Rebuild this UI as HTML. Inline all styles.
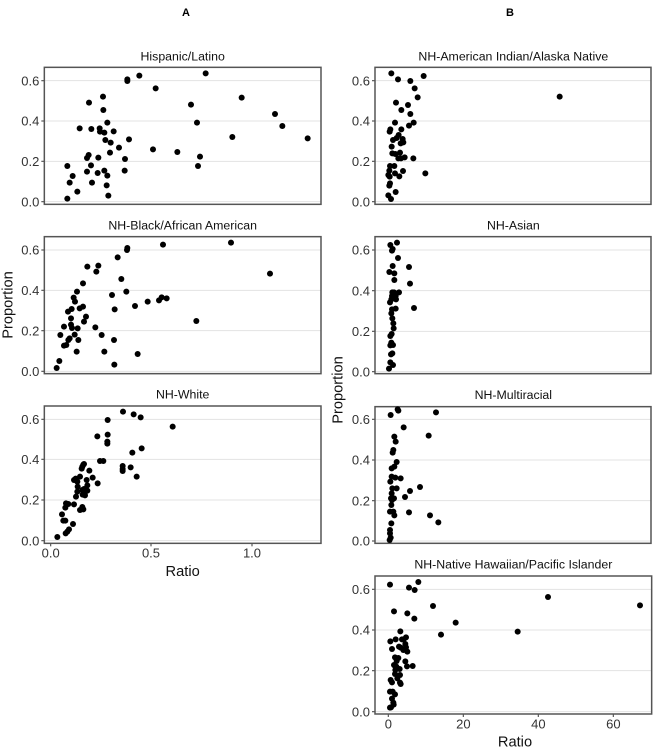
<!DOCTYPE html>
<html><head><meta charset="utf-8"><style>
body{margin:0;background:#fff}
svg{display:block;font-family:"Liberation Sans",Arial,sans-serif}
.fr{fill:none;stroke:#555;stroke-width:4.5}
.gr{stroke:#e3e3e3;stroke-width:3}
.tk{stroke:#555;stroke-width:3.5}
.tl{font-size:39px;fill:#333;text-anchor:end}
.xl{font-size:39px;fill:#333;text-anchor:middle}
.tt{font-size:37px;fill:#111;text-anchor:middle}
.at{font-size:44px;fill:#111;text-anchor:middle}
circle{fill:#000}
</style></head><body>
<svg width="656" height="750" viewBox="0 0 656 750">
<text x="186" y="16" font-size="11" font-weight="bold" text-anchor="middle">A</text>
<text x="510" y="16" font-size="11" font-weight="bold" text-anchor="middle">B</text>

<!-- A1 -->
<g transform="translate(0,40) scale(0.33333)">
<text class="tt" x="548" y="62">Hispanic/Latino</text>
<line class="gr" x1="133" x2="963" y1="122" y2="122"/><line class="gr" x1="133" x2="963" y1="243" y2="243"/><line class="gr" x1="133" x2="963" y1="364" y2="364"/><line class="gr" x1="133" x2="963" y1="485" y2="485"/>
<rect class="fr" x="133" y="82" width="830" height="411"/>
<line class="tk" x1="124" x2="133" y1="122" y2="122"/><line class="tk" x1="124" x2="133" y1="243" y2="243"/><line class="tk" x1="124" x2="133" y1="364" y2="364"/><line class="tk" x1="124" x2="133" y1="485" y2="485"/>
<text class="tl" x="118" y="136">0.6</text><text class="tl" x="118" y="257">0.4</text><text class="tl" x="118" y="378">0.2</text><text class="tl" x="118" y="499">0.0</text>
<g>
<circle cx="202" cy="378" r="9"/><circle cx="202" cy="476" r="9"/><circle cx="209" cy="428" r="9"/><circle cx="218" cy="408" r="9"/><circle cx="232" cy="455" r="9"/><circle cx="239" cy="265" r="9"/><circle cx="261" cy="354" r="9"/><circle cx="266" cy="345" r="9"/>
<circle cx="267" cy="188" r="9"/><circle cx="309" cy="170" r="9"/><circle cx="310" cy="210" r="9"/><circle cx="322" cy="248" r="9"/><circle cx="274" cy="267" r="9"/><circle cx="299" cy="265" r="9"/><circle cx="300" cy="275" r="9"/><circle cx="313" cy="278" r="9"/><circle cx="341" cy="274" r="9"/><circle cx="316" cy="300" r="9"/><circle cx="332" cy="308" r="9"/><circle cx="330" cy="338" r="9"/><circle cx="357" cy="323" r="9"/><circle cx="387" cy="298" r="9"/><circle cx="375" cy="357" r="9"/><circle cx="374" cy="392" r="9"/><circle cx="261" cy="395" r="9"/><circle cx="273" cy="376" r="9"/><circle cx="276" cy="428" r="9"/><circle cx="293" cy="399" r="9"/><circle cx="295" cy="353" r="9"/><circle cx="313" cy="392" r="9"/><circle cx="322" cy="407" r="9"/><circle cx="320" cy="436" r="9"/><circle cx="325" cy="467" r="9"/><circle cx="382" cy="118" r="9"/><circle cx="382" cy="123" r="9"/><circle cx="418" cy="107" r="9"/><circle cx="467" cy="145" r="9"/><circle cx="459" cy="328" r="9"/><circle cx="532" cy="336" r="9"/><circle cx="573" cy="194" r="9"/><circle cx="591" cy="248" r="9"/><circle cx="600" cy="350" r="9"/><circle cx="594" cy="378" r="9"/><circle cx="617" cy="100" r="9"/><circle cx="697" cy="291" r="9"/><circle cx="725" cy="173" r="9"/><circle cx="825" cy="222" r="9"/><circle cx="847" cy="258" r="9"/><circle cx="923" cy="295" r="9"/>
</g></g>

<!-- A2 -->
<g transform="translate(0,210) scale(0.33333)">
<text class="tt" x="548" y="58">NH-Black/African American</text>
<line class="gr" x1="133" x2="963" y1="120" y2="120"/><line class="gr" x1="133" x2="963" y1="241" y2="241"/><line class="gr" x1="133" x2="963" y1="362" y2="362"/><line class="gr" x1="133" x2="963" y1="484" y2="484"/>
<rect class="fr" x="133" y="80" width="830" height="411"/>
<line class="tk" x1="124" x2="133" y1="120" y2="120"/><line class="tk" x1="124" x2="133" y1="241" y2="241"/><line class="tk" x1="124" x2="133" y1="362" y2="362"/><line class="tk" x1="124" x2="133" y1="484" y2="484"/>
<text class="tl" x="118" y="134">0.6</text><text class="tl" x="118" y="255">0.4</text><text class="tl" x="118" y="376">0.2</text><text class="tl" x="118" y="498">0.0</text>
<text class="at" transform="translate(38,285) rotate(-90)">Proportion</text>
<g>
<circle cx="170" cy="474" r="9"/><circle cx="178" cy="453" r="9"/><circle cx="181" cy="375" r="9"/><circle cx="192" cy="350" r="9"/><circle cx="192" cy="407" r="9"/><circle cx="199" cy="405" r="9"/><circle cx="204" cy="305" r="9"/><circle cx="205" cy="390" r="9"/><circle cx="209" cy="385" r="9"/><circle cx="213" cy="325" r="9"/><circle cx="213" cy="344" r="9"/><circle cx="215" cy="297" r="9"/><circle cx="216" cy="354" r="9"/><circle cx="221" cy="263" r="9"/><circle cx="225" cy="275" r="9"/><circle cx="224" cy="374" r="9"/><circle cx="231" cy="245" r="9"/><circle cx="233" cy="355" r="9"/><circle cx="235" cy="390" r="9"/><circle cx="230" cy="425" r="9"/><circle cx="239" cy="295" r="9"/><circle cx="249" cy="220" r="9"/><circle cx="249" cy="290" r="9"/><circle cx="252" cy="335" r="9"/><circle cx="258" cy="320" r="9"/><circle cx="262" cy="170" r="9"/><circle cx="286" cy="352" r="9"/><circle cx="289" cy="185" r="9"/><circle cx="295" cy="167" r="9"/><circle cx="305" cy="375" r="9"/><circle cx="313" cy="425" r="9"/><circle cx="336" cy="255" r="9"/><circle cx="344" cy="298" r="9"/><circle cx="342" cy="390" r="9"/><circle cx="343" cy="464" r="9"/><circle cx="353" cy="142" r="9"/><circle cx="364" cy="207" r="9"/><circle cx="379" cy="245" r="9"/><circle cx="381" cy="120" r="9"/><circle cx="382" cy="114" r="9"/><circle cx="405" cy="288" r="9"/><circle cx="413" cy="432" r="9"/><circle cx="443" cy="275" r="9"/><circle cx="477" cy="271" r="9"/><circle cx="485" cy="262" r="9"/><circle cx="489" cy="104" r="9"/><circle cx="500" cy="265" r="9"/><circle cx="589" cy="333" r="9"/><circle cx="693" cy="98" r="9"/><circle cx="810" cy="191" r="9"/>
</g></g>

<!-- A3 -->
<g transform="translate(0,380) scale(0.33333)">
<text class="tt" x="548" y="56">NH-White</text>
<line class="gr" x1="133" x2="963" y1="118" y2="118"/><line class="gr" x1="133" x2="963" y1="238" y2="238"/><line class="gr" x1="133" x2="963" y1="360" y2="360"/><line class="gr" x1="133" x2="963" y1="482" y2="482"/>
<rect class="fr" x="133" y="78" width="830" height="412"/>
<line class="tk" x1="124" x2="133" y1="118" y2="118"/><line class="tk" x1="124" x2="133" y1="238" y2="238"/><line class="tk" x1="124" x2="133" y1="360" y2="360"/><line class="tk" x1="124" x2="133" y1="482" y2="482"/>
<text class="tl" x="118" y="132">0.6</text><text class="tl" x="118" y="252">0.4</text><text class="tl" x="118" y="374">0.2</text><text class="tl" x="118" y="496">0.0</text>
<line class="tk" x1="152" x2="152" y1="490" y2="499"/><line class="tk" x1="453" x2="453" y1="490" y2="499"/><line class="tk" x1="756" x2="756" y1="490" y2="499"/>
<text class="xl" x="152" y="533">0.0</text><text class="xl" x="453" y="533">0.5</text><text class="xl" x="756" y="533">1.0</text>
<text class="at" x="548" y="588">Ratio</text>
<g>
<circle cx="172" cy="471" r="9"/><circle cx="198" cy="370" r="9"/><circle cx="196" cy="383" r="9"/><circle cx="205" cy="372" r="9"/><circle cx="186" cy="403" r="9"/><circle cx="190" cy="422" r="9"/><circle cx="196" cy="422" r="9"/><circle cx="197" cy="460" r="9"/><circle cx="202" cy="455" r="9"/><circle cx="207" cy="448" r="9"/><circle cx="219" cy="432" r="9"/><circle cx="222" cy="373" r="9"/><circle cx="228" cy="350" r="9"/><circle cx="232" cy="335" r="9"/><circle cx="233" cy="320" r="9"/><circle cx="232" cy="305" r="9"/><circle cx="227" cy="296" r="9"/><circle cx="222" cy="300" r="9"/><circle cx="240" cy="290" r="9"/><circle cx="245" cy="266" r="9"/><circle cx="247" cy="260" r="9"/><circle cx="250" cy="254" r="9"/><circle cx="252" cy="252" r="9"/><circle cx="247" cy="330" r="9"/><circle cx="252" cy="327" r="9"/><circle cx="248" cy="344" r="9"/><circle cx="254" cy="342" r="9"/><circle cx="262" cy="316" r="9"/><circle cx="260" cy="300" r="9"/><circle cx="247" cy="381" r="9"/><circle cx="240" cy="390" r="9"/><circle cx="250" cy="388" r="9"/><circle cx="255" cy="346" r="9"/><circle cx="268" cy="272" r="9"/><circle cx="262" cy="332" r="9"/><circle cx="278" cy="293" r="9"/><circle cx="293" cy="310" r="9"/><circle cx="292" cy="169" r="9"/><circle cx="300" cy="243" r="9"/><circle cx="310" cy="243" r="9"/><circle cx="323" cy="120" r="9"/><circle cx="323" cy="164" r="9"/><circle cx="322" cy="185" r="9"/><circle cx="322" cy="191" r="9"/><circle cx="369" cy="95" r="9"/><circle cx="368" cy="258" r="9"/><circle cx="368" cy="267" r="9"/><circle cx="368" cy="273" r="9"/><circle cx="392" cy="262" r="9"/><circle cx="401" cy="103" r="9"/><circle cx="397" cy="218" r="9"/><circle cx="410" cy="290" r="9"/><circle cx="422" cy="112" r="9"/><circle cx="425" cy="205" r="9"/><circle cx="518" cy="140" r="9"/>
</g></g>

<!-- B1 -->
<g transform="translate(330,40) scale(0.33333)">
<text class="tt" x="550" y="62">NH-American Indian/Alaska Native</text>
<line class="gr" x1="135" x2="963" y1="122" y2="122"/><line class="gr" x1="135" x2="963" y1="243" y2="243"/><line class="gr" x1="135" x2="963" y1="364" y2="364"/><line class="gr" x1="135" x2="963" y1="485" y2="485"/>
<rect class="fr" x="135" y="82" width="828" height="411"/>
<line class="tk" x1="126" x2="135" y1="122" y2="122"/><line class="tk" x1="126" x2="135" y1="243" y2="243"/><line class="tk" x1="126" x2="135" y1="364" y2="364"/><line class="tk" x1="126" x2="135" y1="485" y2="485"/>
<text class="tl" x="120" y="136">0.6</text><text class="tl" x="120" y="257">0.4</text><text class="tl" x="120" y="378">0.2</text><text class="tl" x="120" y="499">0.0</text>
<g>
<circle cx="184" cy="100" r="9"/><circle cx="204" cy="118" r="9"/><circle cx="241" cy="123" r="9"/><circle cx="281" cy="108" r="9"/><circle cx="254" cy="145" r="9"/><circle cx="263" cy="172" r="9"/><circle cx="198" cy="188" r="9"/><circle cx="234" cy="195" r="9"/><circle cx="214" cy="210" r="9"/><circle cx="241" cy="222" r="9"/><circle cx="251" cy="248" r="9"/><circle cx="237" cy="257" r="9"/><circle cx="195" cy="248" r="9"/><circle cx="181" cy="268" r="9"/><circle cx="179" cy="275" r="9"/><circle cx="189" cy="300" r="9"/><circle cx="200" cy="294" r="9"/><circle cx="206" cy="285" r="9"/><circle cx="214" cy="268" r="9"/><circle cx="218" cy="297" r="9"/><circle cx="220" cy="307" r="9"/><circle cx="212" cy="310" r="9"/><circle cx="185" cy="320" r="9"/><circle cx="187" cy="340" r="9"/><circle cx="196" cy="342" r="9"/><circle cx="210" cy="338" r="9"/><circle cx="213" cy="355" r="9"/><circle cx="205" cy="355" r="9"/><circle cx="224" cy="352" r="9"/><circle cx="180" cy="378" r="9"/><circle cx="193" cy="378" r="9"/><circle cx="178" cy="392" r="9"/><circle cx="175" cy="405" r="9"/><circle cx="179" cy="410" r="9"/><circle cx="219" cy="393" r="9"/><circle cx="208" cy="409" r="9"/><circle cx="250" cy="355" r="9"/><circle cx="286" cy="400" r="9"/><circle cx="180" cy="430" r="9"/><circle cx="178" cy="437" r="9"/><circle cx="197" cy="456" r="9"/><circle cx="175" cy="466" r="9"/><circle cx="183" cy="477" r="9"/><circle cx="689" cy="170" r="9"/><circle cx="195" cy="400" r="9"/>
</g></g>

<!-- B2 + B3 -->
<g transform="translate(330,210) scale(0.33333)">
<text class="tt" x="550" y="58">NH-Asian</text>
<line class="gr" x1="135" x2="963" y1="120" y2="120"/><line class="gr" x1="135" x2="963" y1="242" y2="242"/><line class="gr" x1="135" x2="963" y1="364" y2="364"/><line class="gr" x1="135" x2="963" y1="485" y2="485"/>
<rect class="fr" x="135" y="80" width="828" height="411"/>
<line class="tk" x1="126" x2="135" y1="120" y2="120"/><line class="tk" x1="126" x2="135" y1="242" y2="242"/><line class="tk" x1="126" x2="135" y1="364" y2="364"/><line class="tk" x1="126" x2="135" y1="485" y2="485"/>
<text class="tl" x="120" y="134">0.6</text><text class="tl" x="120" y="256">0.4</text><text class="tl" x="120" y="378">0.2</text><text class="tl" x="120" y="499">0.0</text>
<text class="at" transform="translate(38,540) rotate(-90)">Proportion</text>
<g>
<circle cx="181" cy="105" r="9"/><circle cx="201" cy="98" r="9"/><circle cx="186" cy="122" r="9"/><circle cx="188" cy="117" r="9"/><circle cx="204" cy="144" r="9"/><circle cx="188" cy="168" r="9"/><circle cx="237" cy="171" r="9"/><circle cx="178" cy="186" r="9"/><circle cx="193" cy="190" r="9"/><circle cx="193" cy="210" r="9"/><circle cx="240" cy="221" r="9"/><circle cx="187" cy="247" r="9"/><circle cx="207" cy="247" r="9"/><circle cx="197" cy="258" r="9"/><circle cx="184" cy="268" r="9"/><circle cx="180" cy="277" r="9"/><circle cx="198" cy="268" r="9"/><circle cx="186" cy="298" r="9"/><circle cx="197" cy="296" r="9"/><circle cx="184" cy="310" r="9"/><circle cx="187" cy="325" r="9"/><circle cx="190" cy="340" r="9"/><circle cx="191" cy="355" r="9"/><circle cx="185" cy="372" r="9"/><circle cx="181" cy="378" r="9"/><circle cx="184" cy="398" r="9"/><circle cx="181" cy="406" r="9"/><circle cx="189" cy="405" r="9"/><circle cx="187" cy="430" r="9"/><circle cx="183" cy="433" r="9"/><circle cx="181" cy="457" r="9"/><circle cx="189" cy="465" r="9"/><circle cx="177" cy="476" r="9"/><circle cx="252" cy="294" r="9"/><circle cx="192" cy="247" r="9"/><circle cx="186" cy="258" r="9"/>
</g>
<text class="tt" x="550" y="567">NH-Multiracial</text>
<line class="gr" x1="135" x2="963" y1="628" y2="628"/><line class="gr" x1="135" x2="963" y1="750" y2="750"/><line class="gr" x1="135" x2="963" y1="872" y2="872"/><line class="gr" x1="135" x2="963" y1="993" y2="993"/>
<rect class="fr" x="135" y="590" width="828" height="410"/>
<line class="tk" x1="126" x2="135" y1="628" y2="628"/><line class="tk" x1="126" x2="135" y1="750" y2="750"/><line class="tk" x1="126" x2="135" y1="872" y2="872"/><line class="tk" x1="126" x2="135" y1="993" y2="993"/>
<text class="tl" x="120" y="642">0.6</text><text class="tl" x="120" y="764">0.4</text><text class="tl" x="120" y="886">0.2</text><text class="tl" x="120" y="1007">0.0</text>
<g>
<circle cx="182" cy="615" r="9"/><circle cx="318" cy="607" r="9"/><circle cx="203" cy="598" r="9"/><circle cx="205" cy="602" r="9"/><circle cx="221" cy="652" r="9"/><circle cx="296" cy="677" r="9"/><circle cx="193" cy="680" r="9"/><circle cx="197" cy="695" r="9"/><circle cx="190" cy="720" r="9"/><circle cx="188" cy="728" r="9"/><circle cx="200" cy="756" r="9"/><circle cx="193" cy="770" r="9"/><circle cx="185" cy="775" r="9"/><circle cx="212" cy="805" r="9"/><circle cx="196" cy="803" r="9"/><circle cx="181" cy="815" r="9"/><circle cx="187" cy="835" r="9"/><circle cx="200" cy="835" r="9"/><circle cx="185" cy="850" r="9"/><circle cx="270" cy="831" r="9"/><circle cx="240" cy="843" r="9"/><circle cx="225" cy="861" r="9"/><circle cx="183" cy="865" r="9"/><circle cx="192" cy="865" r="9"/><circle cx="184" cy="885" r="9"/><circle cx="180" cy="905" r="9"/><circle cx="190" cy="905" r="9"/><circle cx="193" cy="916" r="9"/><circle cx="237" cy="907" r="9"/><circle cx="300" cy="916" r="9"/><circle cx="325" cy="937" r="9"/><circle cx="184" cy="940" r="9"/><circle cx="180" cy="960" r="9"/><circle cx="180" cy="970" r="9"/><circle cx="182" cy="983" r="9"/><circle cx="179" cy="990" r="9"/><circle cx="185" cy="800" r="9"/><circle cx="186" cy="870" r="9"/>
</g></g>

<!-- B4 -->
<g transform="translate(330,550) scale(0.33333)">
<text class="tt" x="550" y="56">NH-Native Hawaiian/Pacific Islander</text>
<line class="gr" x1="135" x2="965" y1="118" y2="118"/><line class="gr" x1="135" x2="965" y1="240" y2="240"/><line class="gr" x1="135" x2="965" y1="362" y2="362"/><line class="gr" x1="135" x2="965" y1="485" y2="485"/>
<rect class="fr" x="135" y="78" width="830" height="414"/>
<line class="tk" x1="126" x2="135" y1="118" y2="118"/><line class="tk" x1="126" x2="135" y1="240" y2="240"/><line class="tk" x1="126" x2="135" y1="362" y2="362"/><line class="tk" x1="126" x2="135" y1="485" y2="485"/>
<text class="tl" x="120" y="132">0.6</text><text class="tl" x="120" y="254">0.4</text><text class="tl" x="120" y="376">0.2</text><text class="tl" x="120" y="499">0.0</text>
<line class="tk" x1="175" x2="175" y1="492" y2="501"/><line class="tk" x1="400" x2="400" y1="492" y2="501"/><line class="tk" x1="625" x2="625" y1="492" y2="501"/><line class="tk" x1="850" x2="850" y1="492" y2="501"/>
<text class="xl" x="175" y="535">0</text><text class="xl" x="400" y="535">20</text><text class="xl" x="625" y="535">40</text><text class="xl" x="850" y="535">60</text>
<text class="at" x="555" y="590">Ratio</text>
<g>
<circle cx="180" cy="104" r="9"/><circle cx="237" cy="113" r="9"/><circle cx="254" cy="120" r="9"/><circle cx="265" cy="96" r="9"/><circle cx="192" cy="184" r="9"/><circle cx="232" cy="190" r="9"/><circle cx="253" cy="206" r="9"/><circle cx="309" cy="168" r="9"/><circle cx="333" cy="254" r="9"/><circle cx="377" cy="218" r="9"/><circle cx="563" cy="245" r="9"/><circle cx="654" cy="141" r="9"/><circle cx="930" cy="166" r="9"/>
<circle cx="181" cy="274" r="9"/><circle cx="186" cy="297" r="9"/><circle cx="197" cy="268" r="9"/><circle cx="195" cy="322" r="9"/><circle cx="200" cy="333" r="9"/><circle cx="192" cy="345" r="9"/><circle cx="199" cy="350" r="9"/><circle cx="205" cy="324" r="9"/><circle cx="211" cy="244" r="9"/><circle cx="216" cy="268" r="9"/><circle cx="207" cy="290" r="9"/><circle cx="212" cy="293" r="9"/><circle cx="221" cy="268" r="9"/><circle cx="220" cy="300" r="9"/><circle cx="226" cy="282" r="9"/><circle cx="228" cy="292" r="9"/><circle cx="232" cy="305" r="9"/><circle cx="228" cy="262" r="9"/><circle cx="196" cy="360" r="9"/><circle cx="197" cy="350" r="9"/><circle cx="209" cy="357" r="9"/><circle cx="210" cy="375" r="9"/><circle cx="226" cy="334" r="9"/><circle cx="231" cy="349" r="9"/><circle cx="248" cy="348" r="9"/><circle cx="182" cy="390" r="9"/><circle cx="186" cy="397" r="9"/><circle cx="195" cy="372" r="9"/><circle cx="202" cy="385" r="9"/><circle cx="212" cy="402" r="9"/><circle cx="210" cy="398" r="9"/><circle cx="188" cy="425" r="9"/><circle cx="195" cy="433" r="9"/><circle cx="180" cy="425" r="9"/><circle cx="186" cy="446" r="9"/><circle cx="190" cy="458" r="9"/><circle cx="191" cy="464" r="9"/><circle cx="183" cy="472" r="9"/><circle cx="180" cy="473" r="9"/>
</g></g>
</svg>
</body></html>
